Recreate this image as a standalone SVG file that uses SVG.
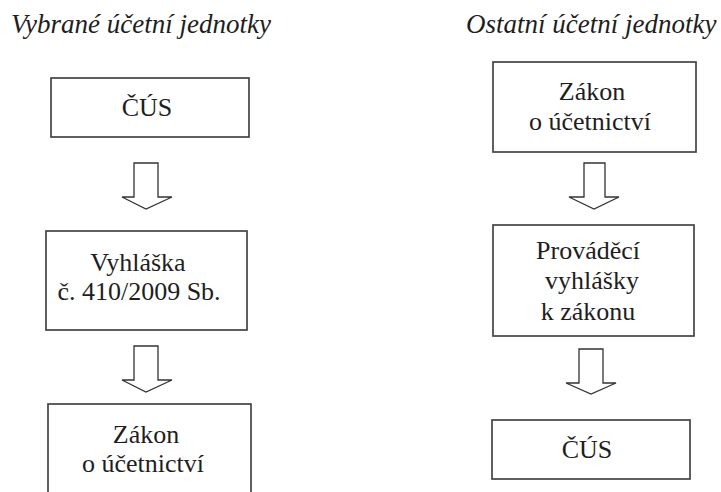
<svg xmlns="http://www.w3.org/2000/svg" width="721" height="492" viewBox="0 0 721 492">
<style>
.bg{fill:#fff}
.box{fill:#fff;stroke:#444;stroke-width:1.7}
.arr{fill:#fff;stroke:#333;stroke-width:1.3;stroke-linejoin:miter}
.t{font-family:"Liberation Serif","Times New Roman",serif;font-size:26px;fill:#1e1e1e;text-anchor:middle}
.h{font-family:"Liberation Serif","Times New Roman",serif;font-size:27px;font-style:italic;fill:#1e1e1e}
</style>
<rect class="bg" x="0" y="0" width="721" height="492"/>
<g id="title-left"><text class="h" x="11" y="33">Vybrané účetní jednotky</text></g>
<g id="title-right"><text class="h" x="466" y="33">Ostatní účetní jednotky</text></g>
<g id="l1"><rect class="box" x="51" y="78" width="198" height="59"/><text class="t" x="147" y="116">ČÚS</text></g>
<g id="l2"><rect class="box" x="46" y="231" width="201" height="99"/><text class="t" x="138" y="271">Vyhláška</text><text class="t" x="139" y="300">č. 410/2009 Sb.</text></g>
<g id="l3"><rect class="box" x="48" y="404" width="203" height="100"/><text class="t" x="146" y="443">Zákon</text><text class="t" x="143" y="472">o účetnictví</text></g>
<g id="r1"><rect class="box" x="493" y="62" width="203" height="90"/><text class="t" x="592" y="100">Zákon</text><text class="t" x="590" y="130">o účetnictví</text></g>
<g id="r2"><rect class="box" x="493" y="225" width="201" height="111"/><text class="t" x="588" y="259">Prováděcí</text><text class="t" x="592" y="289">vyhlášky</text><text class="t" x="588" y="320">k zákonu</text></g>
<g id="r3"><rect class="box" x="492" y="420" width="198" height="59"/><text class="t" x="587" y="458">ČÚS</text></g>
<g id="connectors">
<path class="arr" d="M134,163 H158 V197 H172 L146,209 L122,197 H134 Z"/>
<path class="arr" d="M134,346 H158 V380 H172 L146,392 L122,380 H134 Z"/>
<path class="arr" d="M584,163 H605 V197 H619 L594,209 L569,197 H584 Z"/>
<path class="arr" d="M579,349 H603 V383 H616 L591,394 L566,383 H579 Z"/>
</g>
</svg>
